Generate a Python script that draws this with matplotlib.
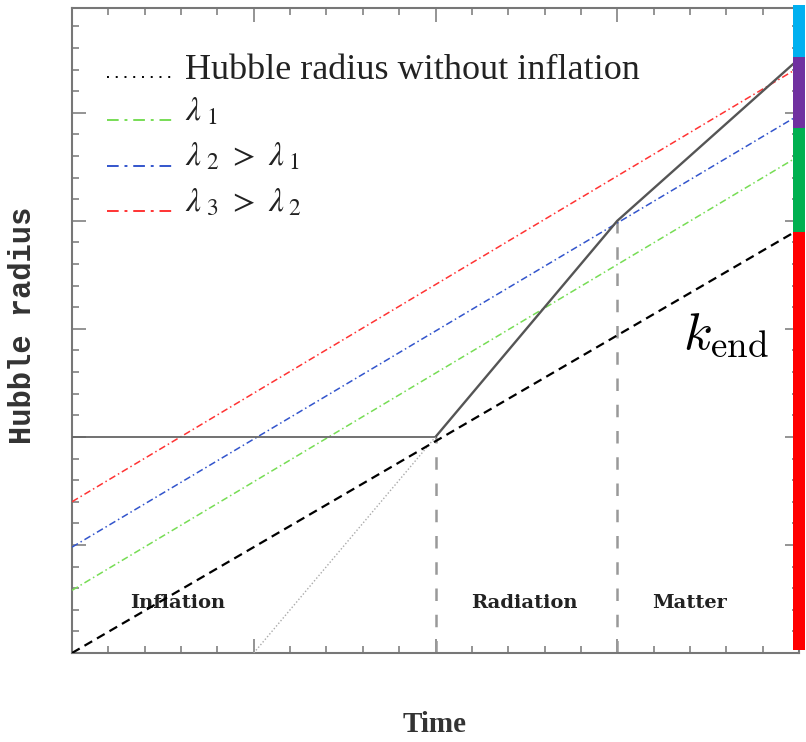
import matplotlib
matplotlib.use("Agg")
import matplotlib.pyplot as plt
from matplotlib.ticker import MultipleLocator

# ---- data ----
infl_x = [0, 2]
infl_y = [2, 2]
post_x = [2, 3, 4]
post_y = [2, 4, 5.5]
noinfl_x = [1, 2]
noinfl_y = [0, 2]
kend_x = [0, 4]
kend_y = [0, 3.92]
lam_x = [0, 3.97]
lam1_y = [0.58, 4.57]
lam2_y = [0.98, 4.95]
lam3_y = [1.40, 5.39]
eras = ["Inflation", "Radiation", "Matter"]
era_x = [0.58, 2.49, 3.40]
era_bounds = [2, 3]
era_tops = [2, 4]
bar_bounds = [0.03, 3.9, 4.86, 5.52, 6.0]
bar_colors = ["#ff0000", "#00b050", "#7030a0", "#00b0f0"]

W, H = 806, 742
fig = plt.figure(figsize=(W / 100, H / 100), dpi=100)
ax = fig.add_axes([72 / W, (H - 653) / H, 727 / W, 645 / H])
ax.set_xlim(0, 4)
ax.set_ylim(0, 5.97)

spine_c = "#777777"
for s in ax.spines.values():
    s.set_color(spine_c)
    s.set_linewidth(1.5)
ax.xaxis.set_major_locator(MultipleLocator(1))
ax.xaxis.set_minor_locator(MultipleLocator(0.2))
ax.yaxis.set_major_locator(MultipleLocator(1))
ax.yaxis.set_minor_locator(MultipleLocator(0.2))
ax.tick_params(which="both", direction="in", top=True, right=True,
               labelbottom=False, labelleft=False, color=spine_c, width=1.1)
ax.tick_params(which="major", length=10)
ax.tick_params(which="minor", length=5)

# era boundaries
for xb, yt in zip(era_bounds, era_tops):
    ax.plot([xb, xb], [0, yt], color="#999999", lw=1.8,
            linestyle=(0, (5, 5.5)), zorder=2)

# lambda lines
dd = (0, (4.5, 2, 1, 2))
ax.plot(lam_x, lam1_y, color="#77dd55", lw=1.1, linestyle=dd, zorder=3)
ax.plot(lam_x, lam2_y, color="#3355cc", lw=1.1, linestyle=dd, zorder=3)
ax.plot(lam_x, lam3_y, color="#ff3333", lw=1.1, linestyle=dd, zorder=3)

# Hubble radius
ax.plot(infl_x, infl_y, color="#666666", lw=1.3, zorder=4)
ax.plot(post_x, post_y, color="#555555", lw=1.7, zorder=4)
ax.plot(noinfl_x, noinfl_y, color="#aaaaaa", lw=1.0, linestyle=(0, (1, 1.5)), zorder=4)

# k_end line
ax.plot(kend_x, kend_y, color="black", lw=1.6, linestyle=(0, (4, 2.5)), zorder=5)

# legend (manual)
lx = [0.19, 0.58]
ax.plot(lx, [5.33, 5.33], color="black", lw=1.4, linestyle=(0, (1, 3.5)), clip_on=False)
ax.plot(lx, [4.93, 4.93], color="#77dd55", lw=1.4, linestyle=(0, (6, 3, 1.5, 3)))
ax.plot(lx, [4.51, 4.51], color="#3355cc", lw=1.4, linestyle=(0, (6, 3, 1.5, 3)))
ax.plot(lx, [4.09, 4.09], color="#ff3333", lw=1.4, linestyle=(0, (6, 3, 1.5, 3)))
ax.text(0.62, 5.31, "Hubble radius without inflation", family="Liberation Serif",
        fontsize=26, color="#222222", va="baseline", ha="left")
ax.text(0.62, 4.93, r"$\lambda_{\ 1}$", fontsize=24, math_fontfamily="stix",
        color="#222222", va="baseline", ha="left")
ax.text(0.62, 4.51, r"$\lambda_{\ 2}\ >\ \lambda_{\ 1}$", fontsize=24, math_fontfamily="stix",
        color="#222222", va="baseline", ha="left")
ax.text(0.62, 4.09, r"$\lambda_{\ 3}\ >\ \lambda_{\ 2}$", fontsize=24, math_fontfamily="stix",
        color="#222222", va="baseline", ha="left")

# era labels
for name, xe in zip(eras, era_x):
    ax.text(xe, 0.46, name, family="DejaVu Serif", fontweight="bold", fontsize=14,
            color="#222222", ha="center", va="center")

# k_end label
ax.text(3.36, 2.81, r"$k_{\rm end}$", fontsize=38, math_fontfamily="cm",
        color="black", ha="left", va="baseline")

# coloured bar on the right
for b0, b1, c in zip(bar_bounds[:-1], bar_bounds[1:], bar_colors):
    ax.bar([4.0], [b1 - b0], bottom=[b0], width=0.066, color=c, clip_on=False,
           zorder=10, linewidth=0)

# axis labels
fig.text(23 / W, 1 - 325 / H, "Hubble radius", family="Liberation Mono",
         fontweight="bold", fontsize=22, color="#333333", rotation=90,
         ha="center", va="center")
fig.text(435 / W, 1 - 725 / H, "Time", family="Liberation Serif", fontweight="bold",
         fontsize=21, color="#333333", ha="center", va="center")

fig.savefig("out.png", dpi=100)
